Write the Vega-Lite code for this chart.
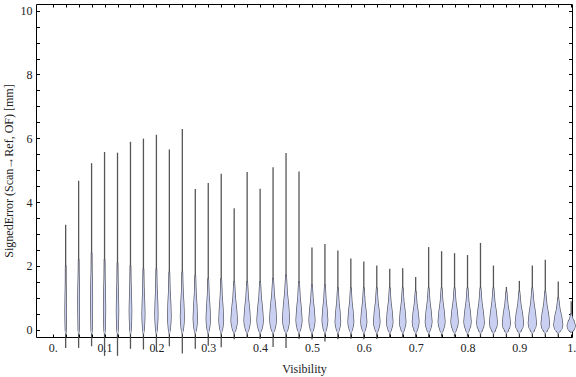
{
"$schema": "https://vega.github.io/schema/vega-lite/v6.json",
"width": 536, "height": 333,
"autosize": {"type": "none"},
"padding": {"left": 36, "top": 4, "right": 4, "bottom": 40},
"background": "white",
"config": {"view": {"stroke": "black", "strokeWidth": 1}, "font": "Liberation Serif"},
"datasets": {
"wh": [
{"vis":0.025,"lo":-0.57,"hi":3.29},{"vis":0.05,"lo":-0.57,"hi":4.67},{"vis":0.075,"lo":-0.52,"hi":5.22},{"vis":0.1,"lo":-0.82,"hi":5.57},
{"vis":0.125,"lo":-0.82,"hi":5.55},{"vis":0.15,"lo":-0.6,"hi":5.89},{"vis":0.175,"lo":-0.62,"hi":5.99},{"vis":0.2,"lo":-0.68,"hi":6.11},
{"vis":0.225,"lo":-0.52,"hi":5.65},{"vis":0.25,"lo":-0.75,"hi":6.29},{"vis":0.275,"lo":-0.6,"hi":4.41},{"vis":0.3,"lo":-0.5,"hi":4.6},
{"vis":0.325,"lo":-0.55,"hi":4.89},{"vis":0.35,"lo":-0.3,"hi":3.81},{"vis":0.375,"lo":-0.26,"hi":4.94},{"vis":0.4,"lo":-0.29,"hi":4.42},
{"vis":0.425,"lo":-0.54,"hi":5.09},{"vis":0.45,"lo":-0.57,"hi":5.54},{"vis":0.475,"lo":-0.29,"hi":4.96},{"vis":0.5,"lo":-0.31,"hi":2.58},
{"vis":0.525,"lo":-0.37,"hi":2.69},{"vis":0.55,"lo":-0.3,"hi":2.48},{"vis":0.575,"lo":-0.28,"hi":2.23},{"vis":0.6,"lo":-0.3,"hi":2.14},
{"vis":0.625,"lo":-0.29,"hi":2.01},{"vis":0.65,"lo":-0.25,"hi":1.91},{"vis":0.675,"lo":-0.25,"hi":1.93},{"vis":0.7,"lo":-0.25,"hi":1.65},
{"vis":0.725,"lo":-0.25,"hi":2.59},{"vis":0.75,"lo":-0.22,"hi":2.46},{"vis":0.775,"lo":-0.22,"hi":2.4},{"vis":0.8,"lo":-0.22,"hi":2.34},
{"vis":0.825,"lo":-0.22,"hi":2.72},{"vis":0.85,"lo":-0.22,"hi":2.01},{"vis":0.875,"lo":-0.22,"hi":1.34},{"vis":0.9,"lo":-0.22,"hi":1.53},
{"vis":0.925,"lo":-0.22,"hi":2.01},{"vis":0.95,"lo":-0.22,"hi":2.19},{"vis":0.975,"lo":-0.22,"hi":1.51},{"vis":1.0,"lo":-0.1,"hi":0.89}
],
"viol": [
{"vis":0.025,"err":-0.1,"dens":0},{"vis":0.025,"err":0,"dens":0.068},{"vis":0.025,"err":0.33,"dens":0.12},{"vis":0.025,"err":0.6,"dens":0.136},{"vis":0.025,"err":1.02,"dens":0.1},{"vis":0.025,"err":1.44,"dens":0.047},{"vis":0.025,"err":2.0,"dens":0.03},
{"vis":0.05,"err":-0.1,"dens":0},{"vis":0.05,"err":0,"dens":0.085},{"vis":0.05,"err":0.55,"dens":0.148},{"vis":0.05,"err":1.0,"dens":0.17},{"vis":0.05,"err":1.36,"dens":0.128},{"vis":0.05,"err":1.72,"dens":0.06},{"vis":0.05,"err":2.2,"dens":0.03},
{"vis":0.075,"err":-0.1,"dens":0},{"vis":0.075,"err":0,"dens":0.095},{"vis":0.075,"err":0.55,"dens":0.168},{"vis":0.075,"err":1.0,"dens":0.19},{"vis":0.075,"err":1.42,"dens":0.143},{"vis":0.075,"err":1.84,"dens":0.067},{"vis":0.075,"err":2.4,"dens":0.03},
{"vis":0.1,"err":-0.1,"dens":0},{"vis":0.1,"err":0,"dens":0.108},{"vis":0.1,"err":0.39,"dens":0.192},{"vis":0.1,"err":0.7,"dens":0.216},{"vis":0.1,"err":1.15,"dens":0.162},{"vis":0.1,"err":1.6,"dens":0.076},{"vis":0.1,"err":2.2,"dens":0.03},
{"vis":0.125,"err":-0.1,"dens":0},{"vis":0.125,"err":0,"dens":0.12},{"vis":0.125,"err":0.33,"dens":0.208},{"vis":0.125,"err":0.6,"dens":0.24},{"vis":0.125,"err":1.05,"dens":0.18},{"vis":0.125,"err":1.5,"dens":0.084},{"vis":0.125,"err":2.1,"dens":0.03},
{"vis":0.15,"err":-0.1,"dens":0},{"vis":0.15,"err":0,"dens":0.13},{"vis":0.15,"err":0.33,"dens":0.228},{"vis":0.15,"err":0.6,"dens":0.26},{"vis":0.15,"err":1.02,"dens":0.195},{"vis":0.15,"err":1.44,"dens":0.091},{"vis":0.15,"err":2.0,"dens":0.03},
{"vis":0.175,"err":-0.1,"dens":0},{"vis":0.175,"err":0,"dens":0.154},{"vis":0.175,"err":0.28,"dens":0.273},{"vis":0.175,"err":0.5,"dens":0.31},{"vis":0.175,"err":0.92,"dens":0.231},{"vis":0.175,"err":1.34,"dens":0.108},{"vis":0.175,"err":1.9,"dens":0.035},
{"vis":0.2,"err":-0.1,"dens":0},{"vis":0.2,"err":0,"dens":0.166},{"vis":0.2,"err":0.28,"dens":0.288},{"vis":0.2,"err":0.5,"dens":0.33},{"vis":0.2,"err":0.92,"dens":0.248},{"vis":0.2,"err":1.34,"dens":0.116},{"vis":0.2,"err":1.9,"dens":0.035},
{"vis":0.225,"err":-0.1,"dens":0},{"vis":0.225,"err":0,"dens":0.188},{"vis":0.225,"err":0.25,"dens":0.33},{"vis":0.225,"err":0.45,"dens":0.375},{"vis":0.225,"err":0.86,"dens":0.281},{"vis":0.225,"err":1.26,"dens":0.131},{"vis":0.225,"err":1.8,"dens":0.04},
{"vis":0.25,"err":-0.1,"dens":0},{"vis":0.25,"err":0,"dens":0.21},{"vis":0.25,"err":0.22,"dens":0.37},{"vis":0.25,"err":0.4,"dens":0.42},{"vis":0.25,"err":0.82,"dens":0.316},{"vis":0.25,"err":1.24,"dens":0.148},{"vis":0.25,"err":1.8,"dens":0.04},
{"vis":0.275,"err":-0.1,"dens":0},{"vis":0.275,"err":0,"dens":0.227},{"vis":0.275,"err":0.19,"dens":0.397},{"vis":0.275,"err":0.35,"dens":0.455},{"vis":0.275,"err":0.76,"dens":0.34},{"vis":0.275,"err":1.16,"dens":0.159},{"vis":0.275,"err":1.7,"dens":0.04},
{"vis":0.3,"err":-0.1,"dens":0},{"vis":0.3,"err":0,"dens":0.227},{"vis":0.3,"err":0.19,"dens":0.397},{"vis":0.3,"err":0.35,"dens":0.455},{"vis":0.3,"err":0.73,"dens":0.34},{"vis":0.3,"err":1.1,"dens":0.159},{"vis":0.3,"err":1.6,"dens":0.04},
{"vis":0.325,"err":-0.1,"dens":0},{"vis":0.325,"err":0,"dens":0.255},{"vis":0.325,"err":0.17,"dens":0.45},{"vis":0.325,"err":0.3,"dens":0.51},{"vis":0.325,"err":0.69,"dens":0.383},{"vis":0.325,"err":1.08,"dens":0.179},{"vis":0.325,"err":1.6,"dens":0.045},
{"vis":0.35,"err":-0.1,"dens":0},{"vis":0.35,"err":0,"dens":0.35},{"vis":0.35,"err":0.17,"dens":0.62},{"vis":0.35,"err":0.3,"dens":0.7},{"vis":0.35,"err":0.66,"dens":0.525},{"vis":0.35,"err":1.02,"dens":0.245},{"vis":0.35,"err":1.5,"dens":0.05},
{"vis":0.375,"err":-0.1,"dens":0},{"vis":0.375,"err":0,"dens":0.35},{"vis":0.375,"err":0.17,"dens":0.62},{"vis":0.375,"err":0.3,"dens":0.7},{"vis":0.375,"err":0.66,"dens":0.525},{"vis":0.375,"err":1.02,"dens":0.245},{"vis":0.375,"err":1.5,"dens":0.05},
{"vis":0.4,"err":-0.1,"dens":0},{"vis":0.4,"err":0,"dens":0.35},{"vis":0.4,"err":0.17,"dens":0.62},{"vis":0.4,"err":0.3,"dens":0.7},{"vis":0.4,"err":0.66,"dens":0.525},{"vis":0.4,"err":1.02,"dens":0.245},{"vis":0.4,"err":1.5,"dens":0.05},
{"vis":0.425,"err":-0.1,"dens":0},{"vis":0.425,"err":0,"dens":0.37},{"vis":0.425,"err":0.19,"dens":0.65},{"vis":0.425,"err":0.35,"dens":0.74},{"vis":0.425,"err":0.73,"dens":0.555},{"vis":0.425,"err":1.1,"dens":0.26},{"vis":0.425,"err":1.6,"dens":0.05},
{"vis":0.45,"err":-0.1,"dens":0},{"vis":0.45,"err":0,"dens":0.38},{"vis":0.45,"err":0.19,"dens":0.67},{"vis":0.45,"err":0.35,"dens":0.76},{"vis":0.45,"err":0.76,"dens":0.57},{"vis":0.45,"err":1.16,"dens":0.266},{"vis":0.45,"err":1.7,"dens":0.05},
{"vis":0.475,"err":-0.1,"dens":0},{"vis":0.475,"err":0,"dens":0.33},{"vis":0.475,"err":0.17,"dens":0.58},{"vis":0.475,"err":0.3,"dens":0.66},{"vis":0.475,"err":0.66,"dens":0.495},{"vis":0.475,"err":1.02,"dens":0.231},{"vis":0.475,"err":1.5,"dens":0.05},
{"vis":0.5,"err":-0.1,"dens":0},{"vis":0.5,"err":0,"dens":0.33},{"vis":0.5,"err":0.17,"dens":0.58},{"vis":0.5,"err":0.3,"dens":0.66},{"vis":0.5,"err":0.63,"dens":0.495},{"vis":0.5,"err":0.96,"dens":0.231},{"vis":0.5,"err":1.4,"dens":0.05},
{"vis":0.525,"err":-0.1,"dens":0},{"vis":0.525,"err":0,"dens":0.31},{"vis":0.525,"err":0.17,"dens":0.545},{"vis":0.525,"err":0.3,"dens":0.62},{"vis":0.525,"err":0.63,"dens":0.465},{"vis":0.525,"err":0.96,"dens":0.217},{"vis":0.525,"err":1.4,"dens":0.05},
{"vis":0.55,"err":-0.1,"dens":0},{"vis":0.55,"err":0,"dens":0.3},{"vis":0.55,"err":0.14,"dens":0.53},{"vis":0.55,"err":0.25,"dens":0.6},{"vis":0.55,"err":0.57,"dens":0.45},{"vis":0.55,"err":0.88,"dens":0.21},{"vis":0.55,"err":1.3,"dens":0.05},
{"vis":0.575,"err":-0.1,"dens":0},{"vis":0.575,"err":0,"dens":0.32},{"vis":0.575,"err":0.14,"dens":0.56},{"vis":0.575,"err":0.25,"dens":0.64},{"vis":0.575,"err":0.57,"dens":0.48},{"vis":0.575,"err":0.88,"dens":0.224},{"vis":0.575,"err":1.3,"dens":0.05},
{"vis":0.6,"err":-0.1,"dens":0},{"vis":0.6,"err":0,"dens":0.33},{"vis":0.6,"err":0.14,"dens":0.58},{"vis":0.6,"err":0.25,"dens":0.66},{"vis":0.6,"err":0.57,"dens":0.495},{"vis":0.6,"err":0.88,"dens":0.231},{"vis":0.6,"err":1.3,"dens":0.05},
{"vis":0.625,"err":-0.1,"dens":0},{"vis":0.625,"err":0,"dens":0.35},{"vis":0.625,"err":0.14,"dens":0.62},{"vis":0.625,"err":0.25,"dens":0.7},{"vis":0.625,"err":0.57,"dens":0.525},{"vis":0.625,"err":0.88,"dens":0.245},{"vis":0.625,"err":1.3,"dens":0.05},
{"vis":0.65,"err":-0.1,"dens":0},{"vis":0.65,"err":0,"dens":0.35},{"vis":0.65,"err":0.14,"dens":0.62},{"vis":0.65,"err":0.25,"dens":0.7},{"vis":0.65,"err":0.57,"dens":0.525},{"vis":0.65,"err":0.88,"dens":0.245},{"vis":0.65,"err":1.3,"dens":0.05},
{"vis":0.675,"err":-0.1,"dens":0},{"vis":0.675,"err":0,"dens":0.35},{"vis":0.675,"err":0.14,"dens":0.62},{"vis":0.675,"err":0.25,"dens":0.7},{"vis":0.675,"err":0.57,"dens":0.525},{"vis":0.675,"err":0.88,"dens":0.245},{"vis":0.675,"err":1.3,"dens":0.05},
{"vis":0.7,"err":-0.1,"dens":0},{"vis":0.7,"err":0,"dens":0.37},{"vis":0.7,"err":0.14,"dens":0.65},{"vis":0.7,"err":0.25,"dens":0.74},{"vis":0.7,"err":0.54,"dens":0.555},{"vis":0.7,"err":0.82,"dens":0.26},{"vis":0.7,"err":1.2,"dens":0.05},
{"vis":0.725,"err":-0.1,"dens":0},{"vis":0.725,"err":0,"dens":0.37},{"vis":0.725,"err":0.14,"dens":0.65},{"vis":0.725,"err":0.25,"dens":0.74},{"vis":0.725,"err":0.57,"dens":0.555},{"vis":0.725,"err":0.88,"dens":0.26},{"vis":0.725,"err":1.3,"dens":0.05},
{"vis":0.75,"err":-0.1,"dens":0},{"vis":0.75,"err":0,"dens":0.38},{"vis":0.75,"err":0.14,"dens":0.67},{"vis":0.75,"err":0.25,"dens":0.76},{"vis":0.75,"err":0.57,"dens":0.57},{"vis":0.75,"err":0.88,"dens":0.266},{"vis":0.75,"err":1.3,"dens":0.05},
{"vis":0.775,"err":-0.1,"dens":0},{"vis":0.775,"err":0,"dens":0.4},{"vis":0.775,"err":0.14,"dens":0.7},{"vis":0.775,"err":0.25,"dens":0.8},{"vis":0.775,"err":0.57,"dens":0.6},{"vis":0.775,"err":0.88,"dens":0.28},{"vis":0.775,"err":1.3,"dens":0.05},
{"vis":0.8,"err":-0.1,"dens":0},{"vis":0.8,"err":0,"dens":0.4},{"vis":0.8,"err":0.14,"dens":0.7},{"vis":0.8,"err":0.25,"dens":0.8},{"vis":0.8,"err":0.57,"dens":0.6},{"vis":0.8,"err":0.88,"dens":0.28},{"vis":0.8,"err":1.3,"dens":0.05},
{"vis":0.825,"err":-0.1,"dens":0},{"vis":0.825,"err":0,"dens":0.42},{"vis":0.825,"err":0.12,"dens":0.74},{"vis":0.825,"err":0.22,"dens":0.84},{"vis":0.825,"err":0.54,"dens":0.63},{"vis":0.825,"err":0.87,"dens":0.294},{"vis":0.825,"err":1.3,"dens":0.05},
{"vis":0.85,"err":-0.1,"dens":0},{"vis":0.85,"err":0,"dens":0.43},{"vis":0.85,"err":0.12,"dens":0.76},{"vis":0.85,"err":0.22,"dens":0.86},{"vis":0.85,"err":0.54,"dens":0.645},{"vis":0.85,"err":0.87,"dens":0.3},{"vis":0.85,"err":1.3,"dens":0.05},
{"vis":0.875,"err":-0.1,"dens":0},{"vis":0.875,"err":0,"dens":0.44},{"vis":0.875,"err":0.11,"dens":0.77},{"vis":0.875,"err":0.2,"dens":0.88},{"vis":0.875,"err":0.5,"dens":0.66},{"vis":0.875,"err":0.8,"dens":0.31},{"vis":0.875,"err":1.2,"dens":0.05},
{"vis":0.9,"err":-0.1,"dens":0},{"vis":0.9,"err":0,"dens":0.46},{"vis":0.9,"err":0.11,"dens":0.81},{"vis":0.9,"err":0.2,"dens":0.92},{"vis":0.9,"err":0.5,"dens":0.69},{"vis":0.9,"err":0.8,"dens":0.32},{"vis":0.9,"err":1.2,"dens":0.05},
{"vis":0.925,"err":-0.1,"dens":0},{"vis":0.925,"err":0,"dens":0.45},{"vis":0.925,"err":0.11,"dens":0.79},{"vis":0.925,"err":0.2,"dens":0.9},{"vis":0.925,"err":0.53,"dens":0.675},{"vis":0.925,"err":0.86,"dens":0.315},{"vis":0.925,"err":1.3,"dens":0.05},
{"vis":0.95,"err":-0.1,"dens":0},{"vis":0.95,"err":0,"dens":0.47},{"vis":0.95,"err":0.1,"dens":0.83},{"vis":0.95,"err":0.18,"dens":0.94},{"vis":0.95,"err":0.49,"dens":0.705},{"vis":0.95,"err":0.79,"dens":0.33},{"vis":0.95,"err":1.2,"dens":0.05},
{"vis":0.975,"err":-0.1,"dens":0},{"vis":0.975,"err":0,"dens":0.5},{"vis":0.975,"err":0.08,"dens":0.88},{"vis":0.975,"err":0.15,"dens":1.0},{"vis":0.975,"err":0.41,"dens":0.75},{"vis":0.975,"err":0.66,"dens":0.35},{"vis":0.975,"err":1.0,"dens":0.05},
{"vis":1.0,"err":-0.08,"dens":0},{"vis":1.0,"err":0,"dens":0.45},{"vis":1.0,"err":0.07,"dens":0.79},{"vis":1.0,"err":0.12,"dens":0.9},{"vis":1.0,"err":0.23,"dens":0.675},{"vis":1.0,"err":0.35,"dens":0.315},{"vis":1.0,"err":0.5,"dens":0.05}
]
},
"layer": [
{
"data": {"name": "wh"},
"mark": {"type": "rule", "color": "#444444", "strokeWidth": 1.3, "opacity": 0.9},
"encoding": {
"x": {"field": "vis", "type": "quantitative", "scale": {"domain": [-0.0322, 1.0015], "nice": false, "zero": false},
 "axis": {"orient": "bottom", "values": [0,0.025,0.05,0.075,0.1,0.125,0.15,0.175,0.2,0.225,0.25,0.275,0.3,0.325,0.35,0.375,0.4,0.425,0.45,0.475,0.5,0.525,0.55,0.575,0.6,0.625,0.65,0.675,0.7,0.725,0.75,0.775,0.8,0.825,0.85,0.875,0.9,0.925,0.95,0.975,1],
  "domain": false, "grid": false, "tickSize": -3, "tickColor": "black", "tickWidth": 1,
  "labelExpr": "datum.value === 0 ? '0.' : datum.value === 1 ? '1.' : (round(datum.value*40) % 4 === 0 ? format(datum.value, '.1f') : '')",
  "labelOverlap": false, "labelFlush": false, "labelPadding": 8, "labelFontSize": 12, "labelColor": "#222222", "labelFont": "Liberation Serif",
  "title": "Visibility", "titleFont": "Liberation Serif", "titleFontSize": 12, "titleFontWeight": "normal", "titleColor": "#222222", "titlePadding": 10,
  "encode": {"ticks": {"update": {"y2": {"signal": "round(datum.value*40) % 4 === 0 ? -5 : -3"}}}}}},
"y": {"field": "lo", "type": "quantitative", "scale": {"domain": [-0.229, 10.21], "nice": false, "zero": false},
 "axis": {"orient": "left", "values": [0,0.5,1,1.5,2,2.5,3,3.5,4,4.5,5,5.5,6,6.5,7,7.5,8,8.5,9,9.5,10],
  "domain": false, "grid": false, "tickSize": -3.5, "tickColor": "black", "tickWidth": 1,
  "labelExpr": "round(datum.value*2) % 4 === 0 ? format(datum.value, 'd') : ''",
  "labelOverlap": false, "labelFlush": false, "labelPadding": 7.5, "labelFontSize": 12, "labelColor": "#222222", "labelFont": "Liberation Serif",
  "title": "SignedError (Scan→Ref, OF) [mm]", "titleFont": "Liberation Serif", "titleFontSize": 12, "titleFontWeight": "normal", "titleColor": "#222222", "titlePadding": 5,
  "encode": {"ticks": {"update": {"x2": {"signal": "round(datum.value*2) % 4 === 0 ? 6 : 3.5"}}}}}},
"y2": {"field": "hi"}
}
},
{
"data": {"name": "viol"},
"mark": {"type": "trail", "color": "#4e4e58"},
"encoding": {
"x": {"field": "vis", "type": "quantitative",
 "axis": {"orient": "top", "values": [0,0.025,0.05,0.075,0.1,0.125,0.15,0.175,0.2,0.225,0.25,0.275,0.3,0.325,0.35,0.375,0.4,0.425,0.45,0.475,0.5,0.525,0.55,0.575,0.6,0.625,0.65,0.675,0.7,0.725,0.75,0.775,0.8,0.825,0.85,0.875,0.9,0.925,0.95,0.975,1],
  "domain": false, "grid": false, "labels": false, "title": null, "tickSize": -3, "tickColor": "black"}},
"y": {"field": "err", "type": "quantitative",
 "axis": {"orient": "right", "values": [0,0.5,1,1.5,2,2.5,3,3.5,4,4.5,5,5.5,6,6.5,7,7.5,8,8.5,9,9.5,10],
  "domain": false, "grid": false, "labels": false, "title": null, "tickSize": -3.5, "tickColor": "black",
  "encode": {"ticks": {"update": {"x2": {"signal": "round(datum.value*2) % 4 === 0 ? -6 : -3.5"}}}}}},
"size": {"field": "dens", "type": "quantitative", "scale": {"domain": [0, 1], "range": [1.3, 10.1], "zero": false}, "legend": null},
"detail": {"field": "vis", "type": "nominal"},
"order": {"field": "err", "type": "quantitative"}
}
},
{
"data": {"name": "viol"},
"mark": {"type": "trail", "color": "#c9d0f2"},
"encoding": {
"x": {"field": "vis", "type": "quantitative", "axis": null},
"y": {"field": "err", "type": "quantitative", "axis": null},
"size": {"field": "dens", "type": "quantitative", "scale": {"domain": [0, 1], "range": [0, 8.8], "zero": false}, "legend": null},
"detail": {"field": "vis", "type": "nominal"},
"order": {"field": "err", "type": "quantitative"}
}
}
],
"resolve": {"axis": {"x": "independent", "y": "independent"}, "scale": {"size": "independent"}}
}
